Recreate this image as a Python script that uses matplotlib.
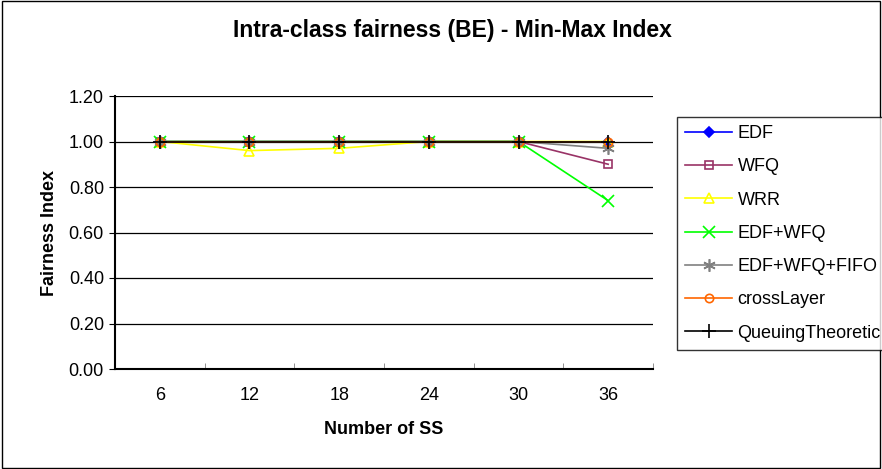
import matplotlib.pyplot as plt
from matplotlib.patches import Rectangle

plt.rcParams['font.family'] = ['Liberation Sans', 'DejaVu Sans']

# data
num_ss = ['6', '12', '18', '24', '30', '36']
edf = [1.00, 1.00, 1.00, 1.00, 1.00, 1.00]
wfq = [1.00, 1.00, 1.00, 1.00, 1.00, 0.90]
wrr = [1.00, 0.96, 0.97, 1.00, 1.00, 1.00]
edf_wfq = [1.00, 1.00, 1.00, 1.00, 1.00, 0.74]
edf_wfq_fifo = [1.00, 1.00, 1.00, 1.00, 1.00, 0.97]
cross_layer = [1.00, 1.00, 1.00, 1.00, 1.00, 1.00]
queuing = [1.00, 1.00, 1.00, 1.00, 1.00, 1.00]

series = [
    ('EDF', edf, '#0000FF', dict(marker='D', markersize=5, markerfacecolor='#0000FF')),
    ('WFQ', wfq, '#993366', dict(marker='s', markersize=6, markerfacecolor='none')),
    ('WRR', wrr, '#FFFF00', dict(marker='^', markersize=7, markerfacecolor='none')),
    ('EDF+WFQ', edf_wfq, '#00FF00', dict(marker='x', markersize=8)),
    ('EDF+WFQ+FIFO', edf_wfq_fifo, '#808080', dict(marker=(6, 2, 0), markersize=9)),
    ('crossLayer', cross_layer, '#FF6600', dict(marker='o', markersize=6, markerfacecolor='none')),
    ('QueuingTheoretic', queuing, '#000000', dict(marker='+', markersize=10)),
]

fig = plt.figure(figsize=(8.82, 4.69), dpi=100)
ax = fig.add_axes([115 / 882, 1 - 369 / 469, (653 - 115) / 882, (369 - 96) / 469])

x = list(range(len(num_ss)))
for name, vals, col, mk in series:
    ax.plot(x, vals, color=col, linewidth=1.2, label=name, markeredgecolor=col,
            markeredgewidth=1.2, clip_on=False, **mk)

ax.set_xlim(-0.5, len(num_ss) - 0.5)
ax.set_ylim(0, 1.2)
ax.set_yticks([0, 0.2, 0.4, 0.6, 0.8, 1.0, 1.2])
ax.set_yticklabels(['%.2f' % v for v in ax.get_yticks()], fontsize=13)
ax.yaxis.grid(True, color='black', linewidth=0.9)
ax.set_axisbelow(True)

ax.set_xticks(x)
ax.set_xticklabels(num_ss, fontsize=13)
ax.tick_params(axis='x', which='major', length=0, pad=13)
ax.set_xticks([i - 0.5 for i in range(len(num_ss) + 1)], minor=True)
ax.tick_params(axis='x', which='minor', length=4, direction='in', color='#808080')
ax.tick_params(axis='y', length=4, direction='out', pad=4)

for s in ['top', 'right']:
    ax.spines[s].set_visible(False)
ax.spines['left'].set_linewidth(1.5)
ax.spines['bottom'].set_linewidth(1.5)

ax.set_xlabel('Number of SS', fontsize=13, fontweight='bold', labelpad=12)
ax.set_ylabel('Fairness Index', fontsize=13, fontweight='bold', labelpad=8)

fig.text(452 / 882, 1 - 31 / 469, 'Intra-class fairness (BE) - Min-Max Index',
         ha='center', va='center', fontsize=16.5, fontweight='bold')

leg = fig.legend(loc='upper left', bbox_to_anchor=(677 / 882, 1 - 117 / 469),
                 fontsize=13, frameon=True, fancybox=False, edgecolor='black',
                 labelspacing=0.9, handlelength=2.6, borderpad=0.45, handletextpad=0.3,
                 borderaxespad=0)
leg.get_frame().set_linewidth(1.0)

fig.patches.append(Rectangle((0.002, 0.002), 0.996, 0.995, transform=fig.transFigure,
                             fill=False, edgecolor='black', linewidth=1))

fig.savefig('out.png', dpi=100)
